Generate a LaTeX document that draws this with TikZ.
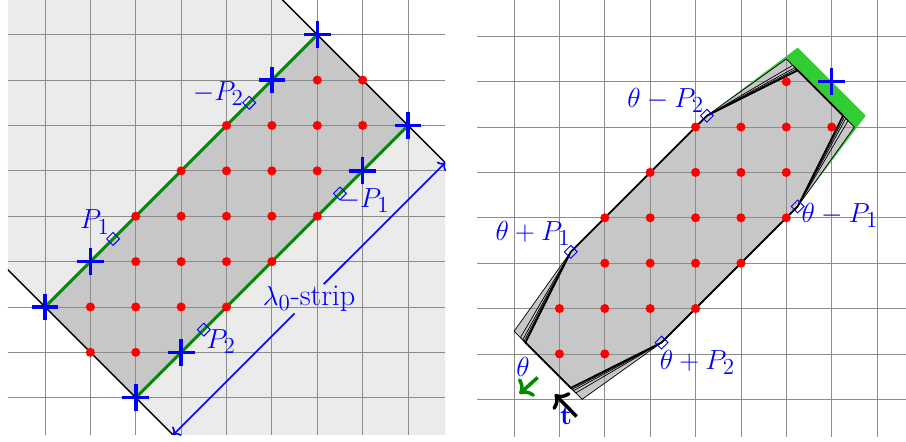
\documentclass[tikz,border=0pt]{standalone}
\usepackage{amsmath}
\usepackage{amssymb}
\usepackage{tikz}
\usetikzlibrary{shapes.misc,arrows.meta}

\definecolor{hellgrau}{gray}{0.92}
\definecolor{mittelgrau}{gray}{0.78}
\definecolor{hellgruen}{RGB}{50,205,50}
\definecolor{dunkelgruen}{RGB}{0,140,0}

\tikzset{
	gitter/.style={gray!90, line width=0.5pt},
	punkt/.style={circle, fill=red, inner sep=0pt, minimum size=0.2cm},
	kreuz/.style={cross out, draw=blue, line width=2.2pt, rotate=45, inner sep=0pt, minimum size=0.34cm},
	raute/.style={rectangle, draw=blue, line width=0.6pt, rotate=45, inner sep=0pt, minimum size=0.2cm},
	beschr/.style={text=blue, font=\fontsize{19}{22}\selectfont, inner sep=1pt},
	pfeil/.style={line width=2.2pt, -{To[length=7pt,width=15pt]}},
}

\begin{document}
\begin{tikzpicture}
		\useasboundingbox (-0.992,-0.976) rectangle (18.975,8.765);
		
		% Linkes Bild: lambda_0-Streifen
		\begin{scope}
			\clip (-0.82,-0.82) rectangle (8.82,8.82);
			\fill[hellgrau] (-5,7) -- (7,-5) -- (13,1) -- (1,13) -- cycle;
			\fill[mittelgrau] (0,2) -- (6,8) -- (8,6) -- (2,0) -- cycle;
			\draw[gitter] (-0.82,-0.82) grid (8.82,8.82);
			\draw[line width=0.9pt] (-3,5) -- (5,-3);
			\draw[line width=0.9pt] (3,11) -- (11,3);
		\end{scope}
		\draw[dunkelgruen, line width=1.8pt] (0,2) -- (6,8);
		\draw[dunkelgruen, line width=1.8pt] (2,0) -- (8,6);
		
		% Pfeil quer ueber den Streifen
		\coordinate (su) at (2.82,-0.82);
		\coordinate (so) at (8.82,5.18);
		\path (su) -- node[beschr] (streifen) {$\lambda_0$-strip} (so);
		\draw[blue, line width=1pt, ->] (streifen) -- (so);
		\draw[blue, line width=1pt, ->] (streifen) -- (su);
		
		% Gitterpunkte
		\foreach \x/\y in {1/1,2/1,1/2,2/2,3/2,4/2,2/3,3/3,4/3,5/3,2/4,3/4,4/4,5/4,6/4,
			3/5,4/5,5/5,6/5,4/6,5/6,6/6,7/6,6/7,7/7}
			\node[punkt] (l\x\y) at (\x,\y) {};
		\foreach \x/\y in {0/2,1/3,5/7,6/8,2/0,3/1,7/5,8/6}
			\node[kreuz] (k\x\y) at (\x,\y) {};
		
		% P_1, P_2
		\node[raute] (p1) at (1.5,3.5) {};
		\node[raute] (mp2) at (4.5,6.5) {};
		\node[raute] (p2) at (3.5,1.5) {};
		\node[raute] (mp1) at (6.5,4.5) {};
		\node[beschr] (lp1) at (1.10,3.87) {$P_1$};
		\node[beschr] (lmp2) at (3.82,6.70) {$-P_2$};
		\node[beschr] (lp2) at (3.88,1.24) {$P_2$};
		\node[beschr] (lmp1) at (7.03,4.35) {$-P_1$};
		
		% Rechtes Bild: verschobenes Vieleck
		\begin{scope}[shift={(10.337,-0.035)}]
			\coordinate (tp1) at (1.25,3.25);
			\coordinate (tp2) at (3.25,1.25);
			\coordinate (tm1) at (6.25,4.25);
			\coordinate (tm2) at (4.25,6.25);
			
			\fill[hellgruen] (tm2) -- (6.25,7.75) -- (7.75,6.25) -- (tm1) -- cycle;
			\fill[mittelgrau] (tp1) -- (0,1.5) -- (1.5,0) -- (tp2) -- (tm1) -- (7.5,6) -- (6,7.5) -- (tm2) -- cycle;
			\draw[gitter] (-0.82,-0.82) grid (8.82,8.82);
			
			\foreach \s in {0,0.14,0.19,0.22}
				\draw[line width=0.45pt] (tp1) -- (\s,{1.5-\s}) -- ({1.5-\s},\s) -- (tp2) -- (tm1)
				-- ({7.5-\s},{6+\s}) -- ({6+\s},{7.5-\s}) -- (tm2) -- cycle;
			\draw[line width=1.1pt] (tp1) -- (0.25,1.25) -- (1.25,0.25) -- (tp2) -- (tm1)
				-- (7.25,6.25) -- (6.25,7.25) -- (tm2) -- cycle;
			
			\foreach \x/\y in {1/1,2/1,1/2,2/2,3/2,4/2,2/3,3/3,4/3,5/3,2/4,3/4,4/4,5/4,6/4,
				3/5,4/5,5/5,6/5,4/6,5/6,6/6,7/6,6/7}
				\node[punkt] (r\x\y) at (\x,\y) {};
			\node[kreuz] (k77) at (7,7) {};
			
			\node[raute] (rtp1) at (tp1) {};
			\node[raute] (rtp2) at (tp2) {};
			\node[raute] (rtm1) at (tm1) {};
			\node[raute] (rtm2) at (tm2) {};
			\node[beschr] (ltp1) at (0.42,3.66) {$\theta+P_1$};
			\node[beschr] (ltp2) at (4.04,0.82) {$\theta+P_2$};
			\node[beschr] (ltm1) at (7.18,4.05) {$\theta-P_1$};
			\node[beschr] (ltm2) at (3.34,6.59) {$\theta-P_2$};
			
			% theta und t
			\coordinate (thA) at (0.52,0.48);
			\coordinate (thB) at (0.12,0.12);
			\draw[dunkelgruen, pfeil] (thA) -- (thB);
			\node[beschr] (lth) at (0.2,0.71) {$\theta$};
			\coordinate (tA) at (1.38,-0.38);
			\coordinate (tB) at (0.9,0.11);
			\draw[pfeil] (tA) -- (tB);
			\node[beschr] (lt) at (1.15,-0.36) {$\mathbf{t}$};
		\end{scope}
		
	\end{tikzpicture}
\end{document}
